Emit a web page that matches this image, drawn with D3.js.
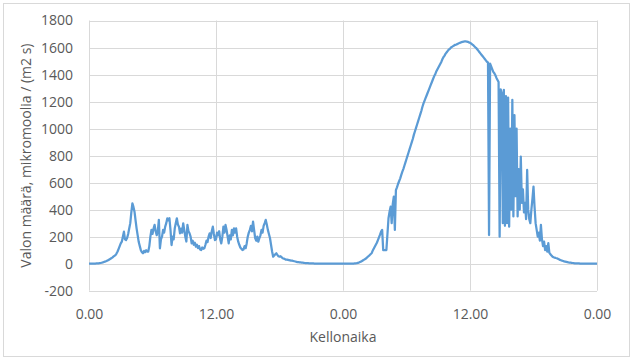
<!DOCTYPE html>
<html>
<head>
<meta charset="utf-8">
<script src="https://cdn.jsdelivr.net/npm/d3@7"></script>
<style>
  body { margin: 0; background: #fff; }
  text { font-family: "Open Sans", sans-serif; fill: #595959; }
</style>
</head>
<body>
<svg id="chart" width="633" height="363"></svg>
<script>
// light readings, one every 0.1 h (6 min); day 1 = hours 0..23.9, day 2 = hours 24..48
const day1 = [
  0,0,0,0,0,1,1,2,2,3,
  4,5,7,9,12,15,18,22,26,30,
  35,40,45,52,58,64,75,90,110,130,
  150,163,200,237,180,175,190,220,260,300,
  380,447,420,385,320,260,210,160,130,100,
  85,77,95,85,100,90,90,130,200,250,
  220,260,287,240,211,240,324,114,180,200,
  250,230,274,300,336,320,336,250,138,200,
  180,260,300,336,290,274,225,260,230,299,
  250,200,164,287,240,225,200,150,170,140,
  155,126,140,115,130,105,101,120,110,114,
  140,170,160,200,225,190,240,274,220,175,
  180,230,210,240,180,150,200,274,230,287,
  250,200,150,210,180,250,210,262,230,262,
  200,163,140,120,110,101,105,130,115,150,
  200,230,250,280,240,311,250,190,170,200,
  163,190,210,250,230,280,300,324,290,250,
  220,190,140,90,52,60,70,77,65,55,
  52,55,48,40,38,34,30,30,28,26,
  24,22,22,20,18,16,14,12,12,10,
  9,8,7,6,5,5,4,4,3,3,
  2,2,2,1,1,1,1,1,1,0,
  0,0,0,0,0,0,0,0,0,0,
  0,0,0,0,0,0,0,0,0,0
];
const day2 = [
  0,0,0,0,0,0,0,0,0,1,
  1,2,3,4,6,8,12,15,20,25,
  30,35,40,48,55,62,70,77,95,110,
  125,140,155,175,195,215,237,250,100,101,
  100,101,220,336,385,422,300,440,496,250,
  545,565,590,610,630,655,680,700,725,750,
  775,800,825,850,875,900,925,955,980,1005,
  1030,1055,1080,1105,1130,1160,1185,1205,1225,1245,
  1265,1285,1305,1325,1345,1365,1385,1400,1420,1435,
  1450,1465,1480,1495,1515,1530,1540,1555,1565,1575,
  1585,1590,1600,1605,1610,1615,1620,1622,1625,1630,
  1633,1636,1640,1642,1644,1645,1645,1644,1642,1638,
  1635,1630,1624,1618,1610,1602,1595,1585,1575,1565,
  1555,1545,1535,1525,1515,1505,1495,1490,212,1480,
  1460,1440,1420,1410,1395,1375,1360,1345,200,1290,
  1262,300,1287,280,1240,300,1230,274,1000,400,
  1213,350,1100,500,1000,350,700,400,793,450,
  550,380,450,330,694,400,330,300,400,480,
  570,420,300,250,200,230,170,287,180,130,
  163,100,130,90,152,80,70,60,52,48,
  45,42,40,36,32,28,25,22,20,17,
  15,13,11,9,8,7,6,5,4,3,
  3,2,2,2,1,1,1,0,0,0,
  0,0,0,0,0,0,0,0,0,0,
  0
];
const xTicks = [0, 12, 24, 36, 48];
const xTickLabels = ["0.00", "12.00", "0.00", "12.00", "0.00"];
const yTicks = [-200, 0, 200, 400, 600, 800, 1000, 1200, 1400, 1600, 1800];
const yTitle = "Valon määrä, mikromoolia / (m2 s)";
const xTitle = "Kellonaika";

const step = 0.1;
const points = day1.concat(day2).map((v, i) => ({ h: i * step, v: v }));

const svg = d3.select("#chart");
const plotLeft = 89, plotRight = 597, plotTop = 20.5, plotBottom = 290.7;

const x = d3.scaleLinear().domain([0, 48]).range([plotLeft, plotRight]);
const y = d3.scaleLinear().domain([-200, 1800]).range([plotBottom, plotTop]);

// chart frame
svg.append("rect")
  .attr("x", 3.5).attr("y", 3.5).attr("width", 626).attr("height", 353)
  .attr("fill", "#fff").attr("stroke", "#d9d9d9");

// gridlines
svg.append("g").selectAll("line").data(yTicks).join("line")
  .attr("x1", plotLeft).attr("x2", plotRight)
  .attr("y1", d => Math.round(y(d)) + 0.5).attr("y2", d => Math.round(y(d)) + 0.5)
  .attr("stroke", "#d9d9d9");
svg.append("g").selectAll("line").data(xTicks).join("line")
  .attr("x1", d => Math.round(x(d)) + 0.5).attr("x2", d => Math.round(x(d)) + 0.5)
  .attr("y1", plotTop).attr("y2", plotBottom)
  .attr("stroke", "#d9d9d9");

// axes (labels only)
const yAxis = svg.append("g")
  .attr("transform", `translate(${plotLeft - 13},0)`)
  .call(d3.axisLeft(y).tickValues(yTicks).tickSize(0).tickFormat(d => String(d)));
const xAxis = svg.append("g")
  .attr("transform", `translate(0,${plotBottom + 15})`)
  .call(d3.axisBottom(x).tickValues(xTicks).tickSize(0).tickFormat((d, i) => xTickLabels[i]));
[yAxis, xAxis].forEach(a => {
  a.select(".domain").remove();
  a.selectAll("text").attr("font-size", 14).attr("fill", "#595959")
    .style("font-family", '"Open Sans", sans-serif');
});

// line
svg.append("path")
  .datum(points)
  .attr("fill", "none")
  .attr("stroke", "#5b9bd5")
  .attr("stroke-width", 2.25)
  .attr("stroke-linejoin", "round")
  .attr("d", d3.line().x(d => x(d.h)).y(d => y(d.v)));

// titles
svg.append("text")
  .attr("transform", `translate(31,${(plotTop + plotBottom) / 2}) rotate(-90)`)
  .attr("text-anchor", "middle")
  .attr("font-size", 14)
  .text(yTitle);
svg.append("text")
  .attr("x", (plotLeft + plotRight) / 2).attr("y", 342)
  .attr("text-anchor", "middle")
  .attr("font-size", 14)
  .text(xTitle);
</script>
</body>
</html>
